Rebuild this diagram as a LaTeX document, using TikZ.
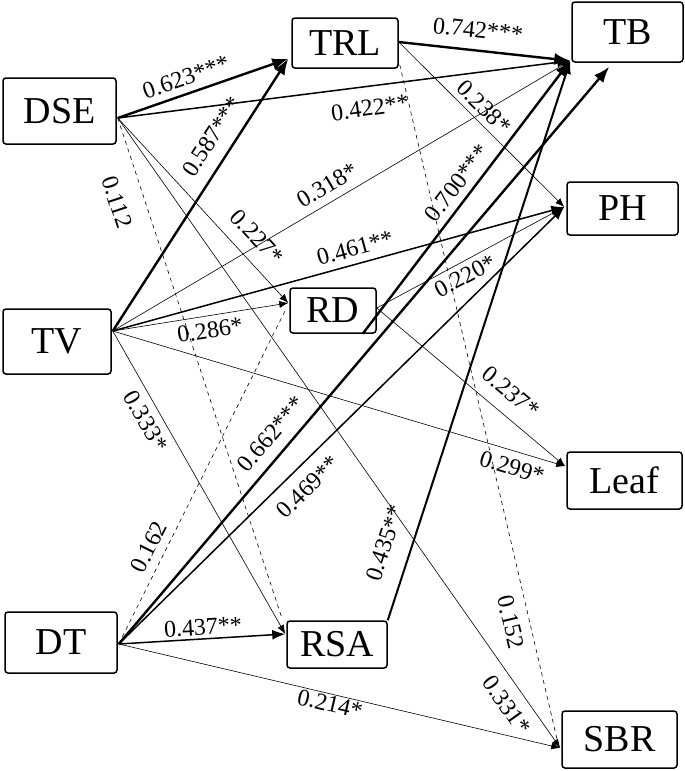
\documentclass[tikz,border=0pt]{standalone}
\usepackage{fontspec}
\setmainfont{Liberation Serif}
\newfontfamily\tnr{Liberation Serif}
\usetikzlibrary{arrows.meta,calc}
\begin{document}
\begin{tikzpicture}[x=1pt,y=-1pt,
 box/.style={draw,line width=1.5pt,rounded corners=3pt,inner sep=0pt,font=\tnr\fontsize{38}{38}\selectfont},
 lab/.style={font=\tnr\fontsize{24}{24}\selectfont,inner sep=0pt},
 s3/.style={line width=2.4pt,-{Latex[length=16pt,width=12pt]}},
 s2/.style={line width=1.5pt,-{Latex[length=13pt,width=10pt]}},
 s1/.style={line width=0.6pt,-{Latex[length=9pt,width=7pt]}},
 ns/.style={line width=0.6pt,dash pattern=on 4pt off 4pt}]
\useasboundingbox (0,0) rectangle (685,771);
% boxes
\node[box,minimum width=113pt,minimum height=66pt] (DSE) at (59.5,111) {DSE};
\node[box,minimum width=106pt,minimum height=50pt] (TRL) at (345,43) {TRL};
\node[box,minimum width=111pt,minimum height=60pt] (TB) at (627.5,32) {TB};
\node[box,minimum width=111pt,minimum height=53pt] (PH) at (622.5,208.5) {PH};
\node[box,minimum width=108pt,minimum height=65pt] (TV) at (57,341.5) {TV};
\node[box,minimum width=86pt,minimum height=45pt] (RD) at (333,310.5) {RD};
\node[box,minimum width=115pt,minimum height=57pt] (Leaf) at (624.5,480.5) {Leaf};
\node[box,minimum width=112pt,minimum height=61pt] (DT) at (61,642.5) {DT};
\node[box,minimum width=100pt,minimum height=47pt] (RSA) at (337,644.5) {RSA};
\node[box,minimum width=115pt,minimum height=57pt] (SBR) at (619.5,739.5) {SBR};
% ports
\coordinate (DSEo) at ($(DSE.east)+(1,7)$);
\coordinate (TRLi) at ($(TRL.south west)+(-3,-10)$);
\coordinate (TRLo) at ($(TRL.east)+(0,-1)$);
\coordinate (TRLd) at ($(TRL.south east)+(1,-4)$);
\coordinate (TBi) at ($(TB.south west)+(-1,-2)$);
\coordinate (TBj) at ($(TB.south west)+(38,4)$);
\coordinate (PHi) at ($(PH.west)+(-2,-1.5)$);
\coordinate (TVo) at ($(TV.east)+(1,-10.5)$);
\coordinate (RDi) at ($(RD.west)+(-1,-7.5)$);
\coordinate (RDd) at ($(RD.west)+(-3,-2)$);
\coordinate (RDo) at ($(RD.east)+(0,-2.5)$);
\coordinate (RDt) at ($(RD.south east)+(-14,0)$);
\coordinate (Leafi) at ($(Leaf.north west)+(-1,15)$);
\coordinate (DTo) at ($(DT.east)+(1,1.5)$);
\coordinate (RSAi) at ($(RSA.west)+(-1,-10.5)$);
\coordinate (RSAd) at ($(RSA.north west)+(-4,-1)$);
\coordinate (RSAo) at (RSA.north east);
\coordinate (SBRi) at ($(SBR.west)+(-1,8.5)$);
\coordinate (SBRd) at ($(SBR.west)+(-3,5)$);
% non-significant
\draw[ns] (DSEo) -- (RSAd);
\draw[ns] (TRLd) -- (SBRd);
\draw[ns] (DTo) -- (RDd);
% thin
\draw[s1] (TVo) -- (TBi);
\draw[s1] (TVo) -- (RDi);
\draw[s1] (TVo) -- (Leafi);
\draw[s1] (TVo) -- (RSAi);
\draw[s1] (DSEo) -- (RDi);
\draw[s1] (DSEo) -- (SBRi);
\draw[s1] (TRLo) -- (PHi);
\draw[s1] (RDo) -- (PHi);
\draw[s1] (RDo) -- (Leafi);
\draw[s1] (DTo) -- (SBRi);
% medium
\draw[s2] (DSEo) -- (TBi);
\draw[s2] (TVo) -- (PHi);
\draw[s2] (DTo) -- (PHi);
\draw[s2] (DTo) -- (RSAi);
\draw[s2,line width=2pt] (RSAo) -- (TBi);
% thick
\draw[s3] (DSEo) -- (TRLi);
\draw[s3] (TVo) -- (TRLi);
\draw[s3] (TRLo) -- (TBi);
\draw[s3] (RDt) -- (TBi);
\draw[s3] (DTo) -- (TBj);
% labels
\node[lab,rotate=19] (l1) at (186,77) {0.623***};
\node[lab,rotate=8] (l2) at (370,108) {0.422**};
\node[lab,rotate=-71.7] (l3) at (117,202) {0.112};
\node[lab,rotate=57] (l4) at (212,137) {0.587***};
\node[lab,rotate=-47] (l5) at (257,237) {0.227*};
\node[lab,rotate=30.6] (l6) at (327,185) {0.318*};
\node[lab,rotate=15.3] (l7) at (355,248) {0.461**};
\node[lab,rotate=9] (l8) at (210,330) {0.286*};
\node[lab,rotate=-60] (l9) at (146,421) {0.333*};
\node[lab,rotate=49.6] (l10) at (271,434) {0.662***};
\node[lab,rotate=44.4] (l11) at (308,487) {0.469**};
\node[lab,rotate=63.5] (l12) at (149,547) {0.162};
\node[lab,rotate=3.4] (l13) at (203,627) {0.437**};
\node[lab,rotate=-13.2] (l14) at (330,704) {0.214*};
\node[lab,rotate=-6] (l15) at (478,30) {0.742***};
\node[lab,rotate=-44.6] (l16) at (484,107) {0.238*};
\node[lab,rotate=52.6] (l17) at (457,183) {0.700***};
\node[lab,rotate=28] (l18) at (465,276) {0.220*};
\node[lab,rotate=-40] (l19) at (511,392) {0.237*};
\node[lab,rotate=-16.7] (l20) at (512,467) {0.299*};
\node[lab,rotate=71.8] (l21) at (385,543) {0.435**};
\node[lab,rotate=-76.7] (l22) at (511,622) {0.152};
\node[lab,rotate=-54.8] (l23) at (507,705) {0.331*};
\end{tikzpicture}
\end{document}
